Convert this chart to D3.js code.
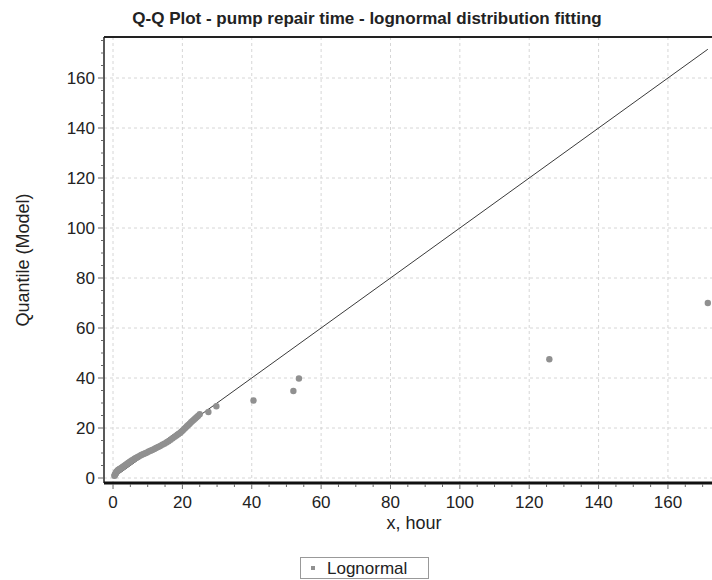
<!DOCTYPE html>
<meta charset="utf-8">
<style>
body { margin: 0; background: #fff; }
text { font-family: "Liberation Sans", Arial, sans-serif; fill: #222; }
.tick-label { font-size: 17px; }
.axis-title { font-size: 18px; }
.title { font-size: 17px; font-weight: bold; }
.grid { stroke: #d6d6d6; stroke-dasharray: 3,3; stroke-width: 1; }
</style>
<body>
<script src="https://cdn.jsdelivr.net/npm/d3@7"></script>
<script>

// empirical quantiles (x, hour) and model quantiles (lognormal)
var qx = [0.4,0.5,0.6,0.7,0.8,0.9,1.0,1.1,1.3,1.4,1.6,1.8,2.0,2.2,2.4,2.7,2.9,3.2,3.5,3.8,
          4.1,4.4,4.7,5.0,5.4,5.8,6.2,6.6,7.0,7.4,7.9,8.3,8.8,9.3,9.8,10.3,10.8,11.3,11.9,12.4,
          13.0,13.6,14.2,14.8,15.4,16.0,16.6,17.2,17.8,18.3,18.8,19.3,19.7,20.1,20.5,20.9,21.3,21.7,22.1,22.5,
          22.9,23.3,23.7,24.1,24.5,25.0,27.5,29.8,40.5,52.0,53.6,125.8,171.5];
var qy = [0.9,1.1,1.4,1.6,1.9,2.1,2.4,2.6,2.9,3.1,3.3,3.5,3.6,3.8,4.0,4.3,4.5,4.8,5.1,5.4,
          5.7,6.0,6.3,6.6,7.0,7.3,7.7,8.0,8.3,8.6,9.0,9.3,9.6,9.9,10.2,10.6,10.9,11.2,11.6,12.0,
          12.4,12.8,13.3,13.7,14.2,14.7,15.3,15.9,16.5,17.0,17.5,18.0,18.5,19.0,19.6,20.1,20.7,21.2,21.7,22.3,
          22.8,23.3,23.8,24.3,24.8,25.5,26.4,28.7,31.0,34.8,39.8,47.5,70.0];

var xTicks = [0, 20, 40, 60, 80, 100, 120, 140, 160];
var yTicks = [0, 20, 40, 60, 80, 100, 120, 140, 160];
var minorStep = 5;

var width = 712, height = 580;
var pLeft = 104, pTop = 37, pRight = 712, pBottom = 483;

var svg = d3.select("body").append("svg")
    .attr("width", width)
    .attr("height", height);

var x = d3.scaleLinear().domain([-2.6, 172.7]).range([pLeft, pRight]);
var y = d3.scaleLinear().domain([-2, 176.4]).range([pBottom, pTop]);

// grid
svg.selectAll(".gx").data(xTicks).enter().append("line")
    .attr("class", "grid")
    .attr("x1", function(d) { return x(d); }).attr("x2", function(d) { return x(d); })
    .attr("y1", pTop).attr("y2", pBottom);
svg.selectAll(".gy").data(yTicks).enter().append("line")
    .attr("class", "grid")
    .attr("x1", pLeft).attr("x2", pRight)
    .attr("y1", function(d) { return y(d); }).attr("y2", function(d) { return y(d); });

// reference line y = x
var xmax = d3.max(qx);
svg.append("line")
    .attr("x1", x(0)).attr("y1", y(0))
    .attr("x2", x(xmax)).attr("y2", y(xmax))
    .attr("stroke", "#3a3a3a").attr("stroke-width", 1);

// points
svg.selectAll("circle.pt").data(qx).enter().append("circle")
    .attr("class", "pt")
    .attr("cx", function(d) { return x(d); })
    .attr("cy", function(d, i) { return y(qy[i]); })
    .attr("r", 3.2)
    .attr("fill", "#909090");

// frame
svg.append("line").attr("x1", pLeft).attr("x2", pRight).attr("y1", pTop).attr("y2", pTop)
    .attr("stroke", "#222").attr("stroke-width", 2);
svg.append("line").attr("x1", pLeft).attr("x2", pLeft).attr("y1", pTop).attr("y2", pBottom)
    .attr("stroke", "#222").attr("stroke-width", 1.5);
svg.append("line").attr("x1", pLeft).attr("x2", pRight).attr("y1", pBottom).attr("y2", pBottom)
    .attr("stroke", "#111").attr("stroke-width", 3);

// minor ticks
var xMinor = d3.range(0, 175, minorStep);
var yMinor = d3.range(0, 176, minorStep);
svg.selectAll(".mx").data(xMinor).enter().append("line")
    .attr("x1", function(d) { return x(d); }).attr("x2", function(d) { return x(d); })
    .attr("y1", pBottom + 1).attr("y2", function(d) { return d % 20 === 0 ? pBottom + 6 : pBottom + 4; })
    .attr("stroke", "#666");
svg.selectAll(".my").data(yMinor).enter().append("line")
    .attr("y1", function(d) { return y(d); }).attr("y2", function(d) { return y(d); })
    .attr("x1", pLeft - 1).attr("x2", function(d) { return d % 20 === 0 ? pLeft - 6 : pLeft - 3; })
    .attr("stroke", "#666");

// tick labels
svg.selectAll(".lx").data(xTicks).enter().append("text")
    .attr("class", "tick-label")
    .attr("x", function(d) { return x(d); })
    .attr("y", pBottom + 25)
    .attr("text-anchor", "middle")
    .text(function(d) { return d; });
svg.selectAll(".ly").data(yTicks).enter().append("text")
    .attr("class", "tick-label")
    .attr("x", pLeft - 9)
    .attr("y", function(d) { return y(d) + 6; })
    .attr("text-anchor", "end")
    .text(function(d) { return d; });

// titles
svg.append("text").attr("class", "title")
    .attr("x", 367).attr("y", 24).attr("text-anchor", "middle")
    .text("Q-Q Plot - pump repair time - lognormal distribution fitting");
svg.append("text").attr("class", "axis-title")
    .attr("x", 414).attr("y", 529).attr("text-anchor", "middle")
    .text("x, hour");
svg.append("text").attr("class", "axis-title")
    .attr("transform", "translate(29," + ((pTop + pBottom) / 2) + ") rotate(-90)")
    .attr("text-anchor", "middle")
    .text("Quantile (Model)");

// legend
var lg = svg.append("g").attr("transform", "translate(300,557)");
lg.append("rect").attr("x", 0.5).attr("y", 0.5).attr("width", 128).attr("height", 21)
    .attr("fill", "#fff").attr("stroke", "#999");
lg.append("rect").attr("x", 11).attr("y", 9).attr("width", 4).attr("height", 4)
    .attr("fill", "#909090");
lg.append("text").attr("class", "axis-title").attr("x", 27).attr("y", 17)
    .style("font-size", "17px")
    .text("Lognormal");

</script>
